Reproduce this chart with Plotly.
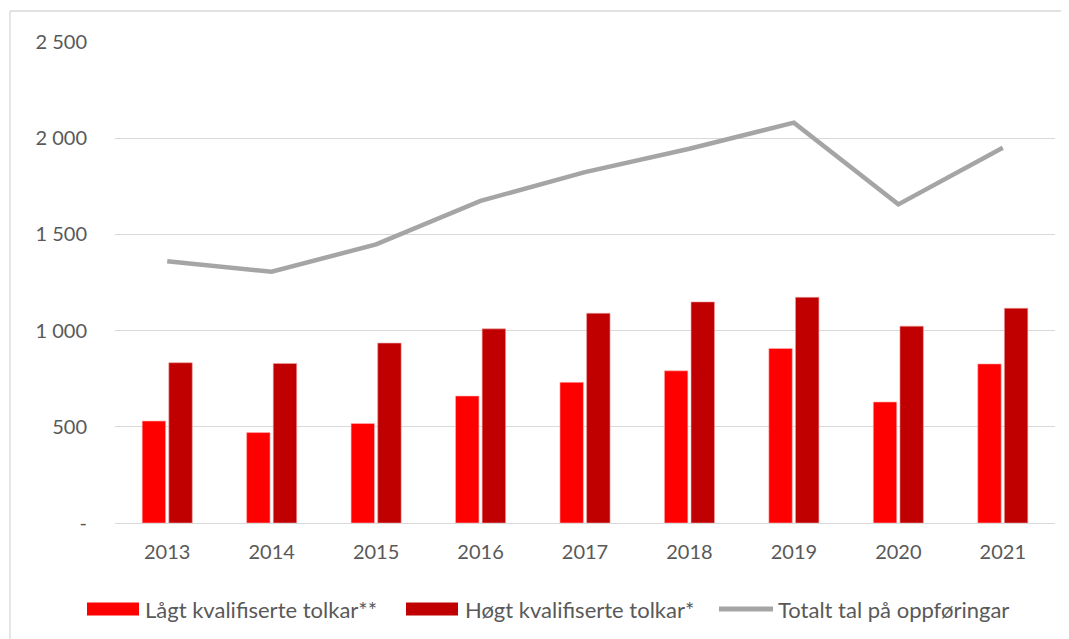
import plotly.graph_objects as go

years = ["2013", "2014", "2015", "2016", "2017", "2018", "2019", "2020", "2021"]
lagt = [530, 470, 517, 660, 731, 791, 907, 629, 827]
hogt = [833, 829, 935, 1009, 1090, 1149, 1173, 1023, 1116]
totalt = [1361, 1306, 1448, 1674, 1824, 1945, 2081, 1656, 1950]
y_ticks = [0, 500, 1000, 1500, 2000, 2500]
y_ticktext = ["-", "500", "1 000", "1 500", "2 000", "2 500"]
legend_names = ["Lågt kvalifiserte tolkar**", "Høgt kvalifiserte tolkar*", "Totalt tal på oppføringar"]

font_family = "Lato, Carlito, Liberation Sans, sans-serif"
text_color = "#595959"
c_lagt, c_hogt, c_tot = "#FF0000", "#C00000", "#A5A5A5"

OFF = 8  # page body margin
FW, FH = 1069 - OFF, 639 - OFF
# plot area in screen coordinates
L, R, T, B = 115, 1055, 42, 523
W, H = R - L, B - T

def px(sx):
    return (sx - L) / W

def py(sy):
    return (B - sy) / H

fig = go.Figure()
fig.add_trace(go.Bar(x=years, y=lagt, name=legend_names[0], showlegend=False,
                     marker=dict(color=c_lagt, line=dict(color="#FFB3B3", width=0.6))))
fig.add_trace(go.Bar(x=years, y=hogt, name=legend_names[1], showlegend=False,
                     marker=dict(color=c_hogt, line=dict(color="#F0A0A0", width=0.6))))
fig.add_trace(go.Scatter(x=years, y=totalt, name=legend_names[2], showlegend=False,
                         mode="lines", line=dict(color=c_tot, width=4.5)))

shapes = []
# chart border (top and left visible)
shapes.append(dict(type="line", xref="paper", yref="paper", x0=px(10), x1=px(1080), y0=py(11), y1=py(11),
                   line=dict(color="#D9D9D9", width=1.3)))
shapes.append(dict(type="line", xref="paper", yref="paper", x0=px(10), x1=px(10), y0=py(11), y1=py(650),
                   line=dict(color="#D9D9D9", width=1.3)))

# legend keys
ly = 609
shapes.append(dict(type="rect", xref="paper", yref="paper", x0=px(87), x1=px(139), y0=py(615.5), y1=py(602.5),
                   fillcolor=c_lagt, line=dict(width=0)))
shapes.append(dict(type="rect", xref="paper", yref="paper", x0=px(406), x1=px(458), y0=py(615.5), y1=py(602.5),
                   fillcolor=c_hogt, line=dict(width=0)))
shapes.append(dict(type="line", xref="paper", yref="paper", x0=px(719), x1=px(773), y0=py(ly), y1=py(ly),
                   line=dict(color=c_tot, width=5)))

annotations = []
for sx, name in zip([143, 463, 776], legend_names):
    annotations.append(dict(xref="paper", yref="paper", x=px(sx), y=py(ly), text=name, showarrow=False,
                            xanchor="left", yanchor="middle", font=dict(size=22, color=text_color)))

fig.update_layout(
    width=FW, height=FH,
    margin=dict(l=L - OFF, r=FW - (R - OFF), t=T - OFF, b=FH - (B - OFF), autoexpand=False),
    paper_bgcolor="white", plot_bgcolor="white",
    font=dict(family=font_family, size=20, color=text_color),
    barmode="group", bargap=0.49, bargroupgap=0.12,
    showlegend=False,
    shapes=shapes, annotations=annotations,
    xaxis=dict(showgrid=False, showline=False, ticks="", tickfont=dict(size=20), ticklabelstandoff=15),
    yaxis=dict(range=[0, 2500], tickvals=y_ticks, ticktext=y_ticktext, showgrid=True,
               gridcolor="#D9D9D9", gridwidth=1.3, zeroline=True, zerolinecolor="#D9D9D9",
               zerolinewidth=1.3, showline=False, ticks="", ticklabelstandoff=27,
               tickfont=dict(size=20)),
)

fig.write_html("out.html")
